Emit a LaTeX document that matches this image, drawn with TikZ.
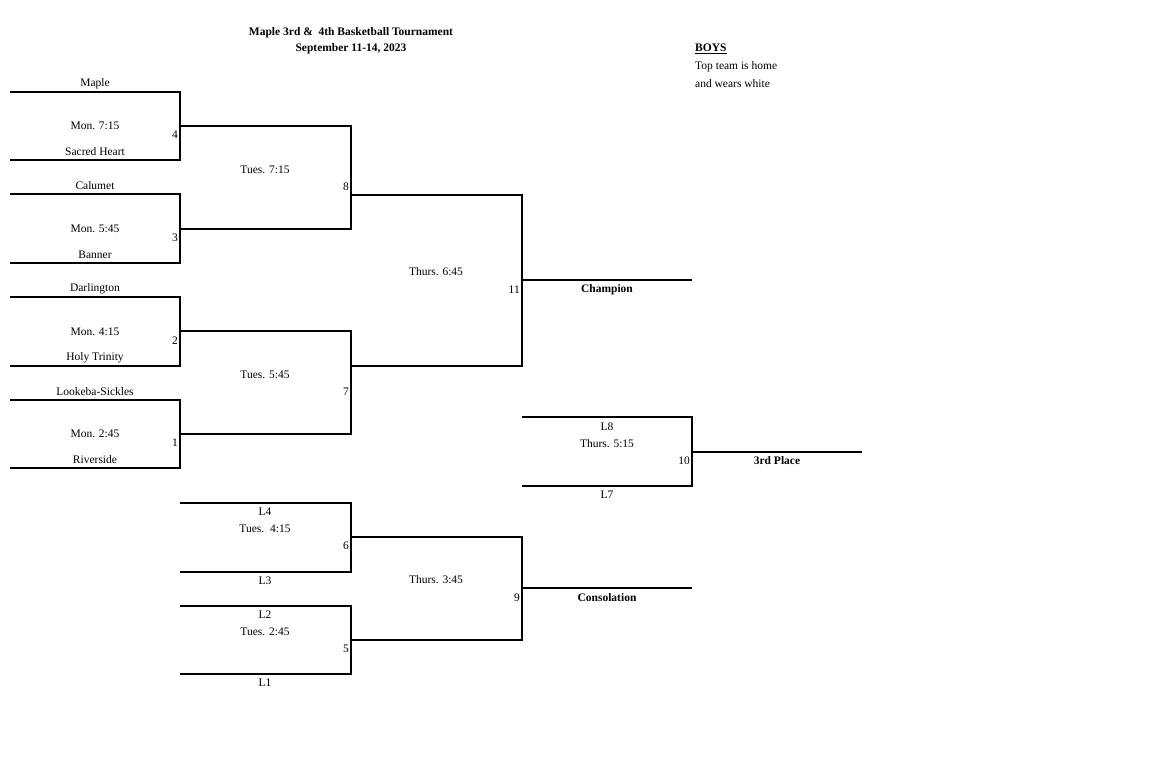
\documentclass[tikz,border=0pt]{standalone}
\usepackage{fontspec}
\setmainfont{Liberation Serif}
\begin{document}
\begin{tikzpicture}[x=1pt,y=-1pt,
  br/.style={line width=1.1pt},
  t/.style={font=\fontsize{11.5}{13}\selectfont, inner sep=0pt},
  b/.style={t,font=\fontsize{11.5}{13}\selectfont\bfseries},
  num/.style={t,anchor=east}]
\useasboundingbox (0,0) rectangle (1170,756);
% titles
\node[b] (title1) at (351,33) {Maple 3rd \&\ \ 4th Basketball Tournament};
\node[b] (title2) at (351,49) {September 11-14, 2023};
\node[b,anchor=west] (boys) at (695,49) {\underline{BOYS}};
\node[t,anchor=west] (n1) at (695,67) {Top team is home};
\node[t,anchor=west] (n2) at (695,84) {and wears white};
% round 1
\foreach \a/\c/\n/\top/\tm/\bot in {92/160/4/Maple/Mon. 7:15/Sacred Heart,
  194/263/3/Calumet/Mon. 5:45/Banner,
  297/366/2/Darlington/Mon. 4:15/Holy Trinity,
  400/468/1/Lookeba-Sickles/Mon. 2:45/Riverside}{
  \draw[br] (10,\a) -- (180,\a) -- (180,\c) -- (10,\c);
  \node[t] at (95,\a-8) {\top};
  \node[t] at (95,{(\a+\c)/2}) {\tm};
  \node[t] at (95,\c-8) {\bot};
  \node[num] at (178,{(\a+\c)/2+9}) {\n};
}
% round 2 and consolation
\foreach \a/\c/\n/\tm in {126/229/8/Tues. 7:15, 331/434/7/Tues. 5:45}{
  \draw[br] (180,\a) -- (351,\a) -- (351,\c) -- (180,\c);
  \node[t] at (265,{\a+44}) {\tm};
  \node[num] at (349,{(\a+\c)/2+9}) {\n};
}
\foreach \a/\c/\n/\top/\tm/\bot in {503/572/6/L4/Tues.\ \ 4:15/L3, 606/674/5/L2/Tues. 2:45/L1}{
  \draw[br] (180,\a) -- (351,\a) -- (351,\c) -- (180,\c);
  \node[t] at (265,\a+9) {\top};
  \node[t] at (265,\a+26) {\tm};
  \node[t] at (265,\c+9) {\bot};
  \node[num] at (349,{\a+43}) {\n};
}
% round 3
\draw[br] (351,195) -- (522,195) -- (522,366) -- (351,366);
\node[t] (th645) at (436,272) {Thurs. 6:45};
\node[num] at (520,290) {11};
\draw[br] (522,280) -- (692,280);
\node[b] (champ) at (607,290) {Champion};
\draw[br] (351,537) -- (522,537) -- (522,640) -- (351,640);
\node[t] (th345) at (436,580) {Thurs. 3:45};
\node[num] at (520,598) {9};
\draw[br] (522,588) -- (692,588);
\node[b] (cons) at (607,598) {Consolation};
% 3rd place
\draw[br] (522,417) -- (692,417) -- (692,486) -- (522,486);
\node[t] (l8) at (607,427) {L8};
\node[t] (th515) at (607,444) {Thurs. 5:15};
\node[t] (l7) at (607,495) {L7};
\node[num] at (690,461) {10};
\draw[br] (692,452) -- (862,452);
\node[b] (third) at (777,461) {3rd Place};
\end{tikzpicture}
\end{document}
